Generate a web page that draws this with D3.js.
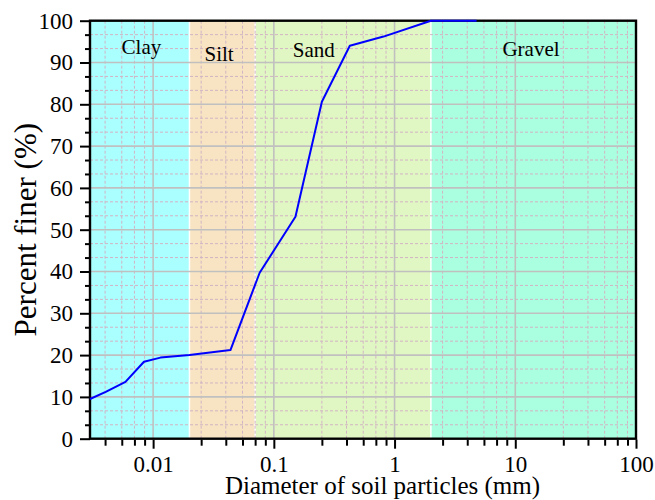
<!DOCTYPE html>
<html>
<head>
<meta charset="utf-8">
<script src="https://cdn.jsdelivr.net/npm/d3@7"></script>
<style>
  body { margin: 0; background: #fff; }
  svg { display: block; font-family: "Liberation Serif", "Times New Roman", serif; }
</style>
</head>
<body>
<svg id="chart" width="655" height="500"></svg>
<script>
// grain size distribution
const diameters = [0.003, 0.00405, 0.0059, 0.0084, 0.0115, 0.02, 0.0437, 0.0763, 0.151, 0.25, 0.426, 0.81, 2.0, 4.78];
const percentFiner = [9.5, 11.2, 13.6, 18.4, 19.4, 20.0, 21.2, 39.7, 53.1, 80.6, 94.0, 96.2, 100, 100];

// soil classes
const bandNames = ['Clay', 'Silt', 'Sand', 'Gravel'];
const bandFrom = [0.003, 0.02, 0.07, 2];
const bandTo = [0.02, 0.07, 2, 100];
const bandColors = ['#aaffff', '#f8e4c2', '#e1f7c3', '#aaffe0'];
const labelAtX = [0.008, 0.0352, 0.214, 13.5];
const labelAtY = [92, 90.4, 91.2, 91.6];

// axes
const xTicks = [0.01, 0.1, 1, 10, 100];
const xTickLabels = ['0.01', '0.1', '1', '10', '100'];
const yTicks = [0, 10, 20, 30, 40, 50, 60, 70, 80, 90, 100];

const width = 655, height = 500;
const margin = { top: 20.7, right: 19, bottom: 61.3, left: 90 };
const svg = d3.select('#chart');

const x = d3.scaleLog().domain([0.003, 100]).range([margin.left, width - margin.right]);
const y = d3.scaleLinear().domain([0, 100]).range([height - margin.bottom, margin.top]);

// minor ticks: 5 linear steps inside each decade (Origin style)
const xMinor = [];
[0.001, 0.01, 0.1, 1, 10].forEach(d => {
    for (let k = 1; k <= 5; k++) {
        const v = d * (1 + 1.5 * k);
        if (v >= 0.003 && v <= 100) xMinor.push(v);
    }
});
const yMinor = [];
for (let i = 0; i < 10; i++) {
    yMinor.push(i * 10 + 10 / 3, i * 10 + 20 / 3);
}

// background bands
const bands = bandNames.map((n, i) => ({ name: n, from: bandFrom[i], to: bandTo[i], color: bandColors[i], lx: labelAtX[i], ly: labelAtY[i] }));
svg.append('g').selectAll('rect')
    .data(bands)
    .join('rect')
    .attr('x', d => x(d.from))
    .attr('y', y(100))
    .attr('width', d => x(d.to) - x(d.from))
    .attr('height', y(0) - y(100))
    .attr('fill', d => d.color);

svg.append('g').selectAll('line')
    .data(bandFrom.slice(1))
    .join('line')
    .attr('x1', d => x(d)).attr('x2', d => x(d))
    .attr('y1', y(100)).attr('y2', y(0))
    .attr('stroke', '#fff')
    .attr('stroke-width', 1.5);

// minor grid
const minorGrid = svg.append('g')
    .attr('stroke', '#d2b4c4')
    .attr('stroke-width', 1)
    .attr('stroke-dasharray', '3,2');
minorGrid.selectAll('.vx').data(xMinor).join('line')
    .attr('x1', d => x(d)).attr('x2', d => x(d))
    .attr('y1', y(100)).attr('y2', y(0));
minorGrid.selectAll('.hy').data(yMinor).join('line')
    .attr('y1', d => y(d)).attr('y2', d => y(d))
    .attr('x1', x(0.003)).attr('x2', x(100));

// major grid
const majorGrid = svg.append('g')
    .attr('stroke', '#c0c0c0')
    .attr('stroke-width', 1.6);
majorGrid.selectAll('.vx').data(xTicks.slice(0, -1)).join('line')
    .attr('x1', d => x(d)).attr('x2', d => x(d))
    .attr('y1', y(100)).attr('y2', y(0));
majorGrid.selectAll('.hy').data(yTicks.slice(1, -1)).join('line')
    .attr('y1', d => y(d)).attr('y2', d => y(d))
    .attr('x1', x(0.003)).attr('x2', x(100));

// band labels
svg.append('g').selectAll('text')
    .data(bands)
    .join('text')
    .attr('x', d => x(d.lx))
    .attr('y', d => y(d.ly))
    .attr('text-anchor', 'middle')
    .attr('font-size', 21)
    .attr('fill', '#000')
    .text(d => d.name);

// frame
svg.append('rect')
    .attr('x', x(0.003)).attr('y', y(100))
    .attr('width', x(100) - x(0.003))
    .attr('height', y(0) - y(100))
    .attr('fill', 'none')
    .attr('stroke', '#000')
    .attr('stroke-width', 2.4);

// axes
function styleAxis(g) {
    g.select('.domain').remove();
    g.selectAll('.tick line').attr('stroke', '#000').attr('stroke-width', 2);
    g.selectAll('.tick text').attr('font-size', 23).attr('fill', '#000')
        .attr('font-family', '"Liberation Serif", "Times New Roman", serif');
}

svg.append('g')
    .attr('transform', `translate(${margin.left},0)`)
    .call(d3.axisLeft(y).tickValues(yTicks).tickSize(10).tickPadding(7))
    .call(styleAxis);
svg.append('g')
    .attr('transform', `translate(${margin.left},0)`)
    .call(d3.axisLeft(y).tickValues(yMinor).tickSize(5).tickFormat(''))
    .call(styleAxis);

svg.append('g')
    .attr('transform', `translate(0,${y(0) + 1})`)
    .call(d3.axisBottom(x).tickValues(xTicks).tickSize(9).tickPadding(7)
        .tickFormat((d, i) => xTickLabels[i]))
    .call(styleAxis);
svg.append('g')
    .attr('transform', `translate(0,${y(0) + 1})`)
    .call(d3.axisBottom(x).tickValues(xMinor).tickSize(6).tickFormat(''))
    .call(styleAxis);

// curve
const points = diameters.map((d, i) => [d, percentFiner[i]]);
svg.append('path')
    .datum(points)
    .attr('fill', 'none')
    .attr('stroke', '#0000ff')
    .attr('stroke-width', 2)
    .attr('stroke-linejoin', 'round')
    .attr('d', d3.line().x(d => x(d[0])).y(d => y(d[1])));

// axis titles
svg.append('text')
    .attr('x', 382.5)
    .attr('y', 494)
    .attr('text-anchor', 'middle')
    .attr('font-size', 25)
    .text('Diameter of soil particles (mm)');

svg.append('text')
    .attr('transform', `translate(36,${(y(0) + y(100)) / 2}) rotate(-90)`)
    .attr('text-anchor', 'middle')
    .attr('font-size', 31)
    .text('Percent finer (%)');
</script>
</body>
</html>
